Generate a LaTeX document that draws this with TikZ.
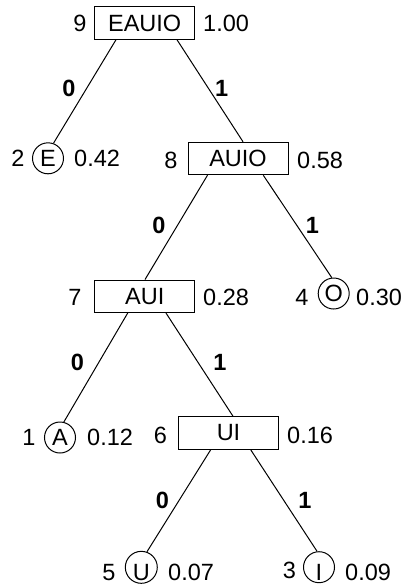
\documentclass[tikz,border=0pt]{standalone}
\usepackage{fontspec}
\setmainfont{Liberation Sans}
\begin{document}
\begin{tikzpicture}[x=1pt,y=-1pt,
  every node/.style={font=\fontsize{23.5}{28}\selectfont},
  box/.style={draw, rectangle, minimum width=100pt, minimum height=32.5pt, inner sep=0pt, line width=1pt},
  leaf/.style={draw, circle, minimum size=31pt, inner sep=0pt, line width=1pt},
  num/.style={anchor=base, inner sep=0pt},
  prob/.style={anchor=base west, inner sep=0pt},
  bit/.style={font=\fontsize{23.5}{28}\selectfont\bfseries, inner sep=0pt},
  edge/.style={line width=1pt}]
\useasboundingbox (0,0) rectangle (404,586);
% tree nodes
\node[box] (n9) at (144.7,23) {EAUIO};
\node[leaf] (n2) at (48,158.3) {E};
\node[box] (n8) at (238,158.5) {AUIO};
\node[box] (n7) at (144.7,296.3) {AUI};
\node[leaf] (n4) at (333.7,293.5) {O};
\node[leaf] (n1) at (60,437.5) {A};
\node[box] (n6) at (228.5,433) {UI};
\node[leaf, text height=27pt, anchor=base] (n5) at (141.3,580.7) {U};
\node[leaf, text height=27pt, anchor=base] (n3) at (319,580.7) {I};
% numbers
\node[num] (k9) at (80,31.7) {9};
\node[num] (k2) at (18,166.7) {2};
\node[num] (k8) at (171,168.3) {8};
\node[num] (k7) at (75,305) {7};
\node[num] (k4) at (302,305) {4};
\node[num] (k1) at (29,445) {1};
\node[num] (k6) at (160.5,443.3) {6};
\node[num] (k5) at (109,580.7) {5};
\node[num] (k3) at (289.5,578.3) {3};
% probabilities
\node[prob] (p9) at (203,31.7) {1.00};
\node[prob] (p2) at (74,166.7) {0.42};
\node[prob] (p8) at (297,168.3) {0.58};
\node[prob] (p7) at (203,305) {0.28};
\node[prob] (p4) at (356,305) {0.30};
\node[prob] (p1) at (87,445) {0.12};
\node[prob] (p6) at (287,443.3) {0.16};
\node[prob] (p5) at (168,580.7) {0.07};
\node[prob] (p3) at (345,580.7) {0.09};
% edges
\draw[edge] ([xshift=-28.7pt]n9.south) -- (n2.70);
\draw[edge] ([xshift=32.3pt]n9.south) -- ([xshift=5pt]n8.north);
\draw[edge] ([xshift=-30.5pt]n8.south) -- ([xshift=0.3pt]n7.north);
\draw[edge] ([xshift=25.3pt]n8.south) -- (n4.97);
\draw[edge] ([xshift=-17pt]n7.south) -- (n1.76);
\draw[edge] ([xshift=21.3pt]n7.south) -- ([xshift=4.5pt]n6.north);
\draw[edge] ([xshift=-17.8pt]n6.south) -- (n5.70);
\draw[edge] ([xshift=22.2pt]n6.south) -- (n3.97);
% bit labels
\node[bit] (b1) at (69,88) {0};
\node[bit] (b2) at (221.7,88) {1};
\node[bit] (b3) at (158.8,225) {0};
\node[bit] (b4) at (312.5,225) {1};
\node[bit] (b5) at (77.5,362) {0};
\node[bit] (b6) at (220,362) {1};
\node[bit] (b7) at (162.5,500) {0};
\node[bit] (b8) at (305,500) {1};
\end{tikzpicture}
\end{document}
